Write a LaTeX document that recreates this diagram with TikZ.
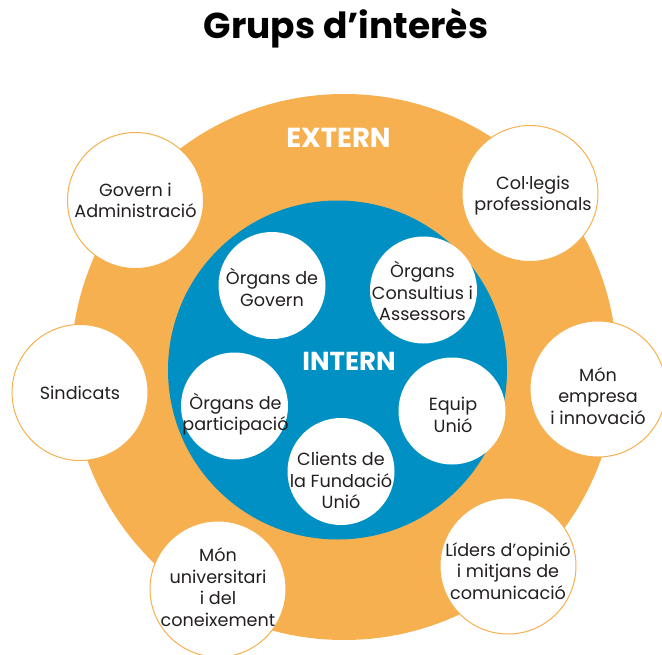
\documentclass[tikz,border=0pt]{standalone}
\usepackage{fontspec}
\setmainfont{Poppins}
\usepackage{tikz}
\definecolor{taronja}{HTML}{F7B04F}
\definecolor{blau}{HTML}{0090C3}
\definecolor{tinta}{HTML}{231F20}

\begin{document}
\begin{tikzpicture}[x=1pt,y=-1pt,
    extern/.style={circle, draw=taronja, line width=1pt, fill=white, minimum size=136pt, inner sep=0pt},
    intern/.style={circle, fill=white, minimum size=107pt, inner sep=0pt},
    etiq/.style={align=center, text=tinta, inner sep=0pt, font=\fontsize{17.6}{21.7}\selectfont},
    rotol/.style={text=white, font=\bfseries\fontsize{27.5}{30}\selectfont, anchor=base}]
    \useasboundingbox (0,0) rectangle (662,654);
    \node[anchor=base, font=\bfseries\fontsize{36}{40}\selectfont] (titol) at (346,38) {Grups d’interès};
    \fill[taronja] (344,367) circle[radius=273pt];
    \fill[blau] (337.5,370) circle[radius=169.5pt];
    \node[rotol] (ext) at (338.5,147.7) {EXTERN};
    \node[rotol, font=\bfseries\fontsize{26}{28}\selectfont] (int) at (349,370.7) {INTERN};
    % grups externs
    \node[extern] (govern) at (135.5,200.5) {};
    \node[extern] (collegis) at (530,193.5) {};
    \node[extern] (sindicats) at (80,392.5) {};
    \node[extern] (empresa) at (598,389) {};
    \node[extern] (univ) at (218,589) {};
    \node[extern] (liders) at (508,566) {};
    \node[etiq] (govern-t) at (govern) {Govern i\\Administració};
    \node[etiq] (collegis-t) at ([shift={(3,2)}]collegis) {Col·legis\\professionals};
    \node[etiq] (sindicats-t) at (sindicats) {Sindicats};
    \node[etiq] (empresa-t) at ([shift={(0,7)}]empresa) {Món\\empresa\\i innovació};
    \node[etiq] (univ-t) at ([shift={(0,-2)}]univ) {Món\\universitari\\i del\\coneixement};
    \node[etiq] (liders-t) at ([shift={(0,5)}]liders) {Líders d’opinió\\i mitjans de\\comunicació};
    % grups interns
    \node[intern] (orggov) at (272,285.5) {};
    \node[intern] (orgcons) at (423.5,290) {};
    \node[intern] (orgpart) at (234.5,406) {};
    \node[intern] (equip) at (452,411) {};
    \node[intern] (clients) at (341,471.5) {};
    \node[etiq] (orggov-t) at ([shift={(0,2)}]orggov) {Òrgans de\\Govern};
    \node[etiq] (orgcons-t) at ([shift={(-1,1)}]orgcons) {Òrgans\\Consultius i\\Assessors};
    \node[etiq] (orgpart-t) at ([shift={(1,8)}]orgpart) {Òrgans de\\participació};
    \node[etiq] (equip-t) at ([shift={(1,4)}]equip) {Equip\\Unió};
    \node[etiq] (clients-t) at ([shift={(0,9)}]clients) {Clients de\\la Fundació\\Unió};
\end{tikzpicture}
\end{document}
